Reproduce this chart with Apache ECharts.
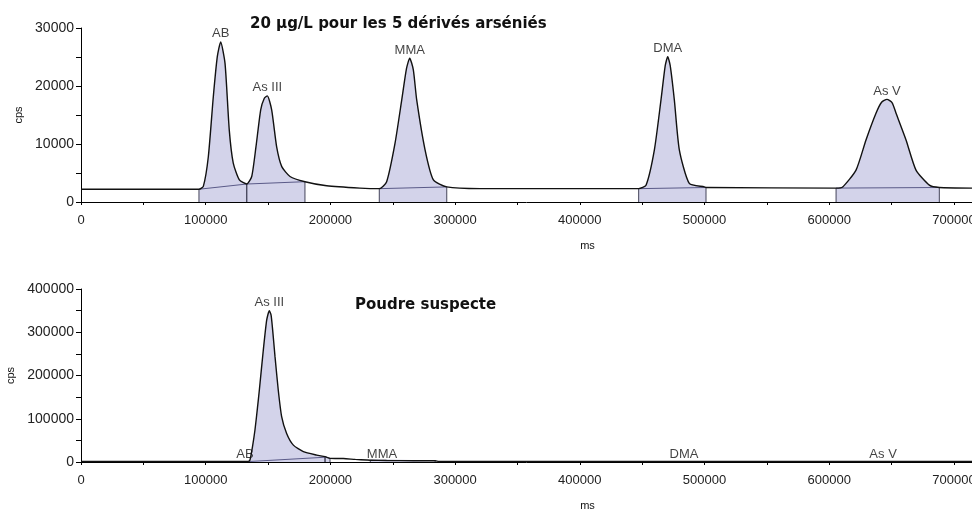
<!DOCTYPE html>
<html>
<head>
<meta charset="utf-8">
<script src="https://cdn.jsdelivr.net/npm/echarts@6/dist/echarts.min.js"></script>
<style>
html, body { margin: 0; padding: 0; background: #fff; }
#chart { width: 972px; height: 511px; }
</style>
</head>
<body>
<div id="chart"></div>
<script>
// standard 20 µg/L : trace (ms, cps)
const topTimes = [0, 94600, 98100, 102100, 106100, 109300, 112000, 115500, 118900, 122100, 127000, 132900,
  136900, 140300, 144100, 147000, 149400, 152900, 156900, 161000, 167600, 179600, 197000, 223700, 239200,
  245100, 251800, 257200, 261000, 263600, 266500, 269200, 275900, 282600, 293300, 320000,
  447200, 453100, 459800, 465100, 468500, 470500, 472500, 475800, 479800, 487800, 499900, 501200,
  605500, 610800, 621500, 629500, 637500, 642000, 646300, 650500, 653600, 661600, 669600, 680300, 688300, 714500]
const topCps = [2200, 2200, 2700, 7800, 18150, 25050, 27600, 23900, 12400, 6700, 3800, 3100,
  4400, 9500, 15900, 17900, 18300, 15900, 9500, 6100, 4400, 3500, 2800, 2400, 2300,
  3500, 10100, 17600, 23000, 24800, 22800, 17600, 9000, 3800, 2600, 2300,
  2300, 2900, 9000, 17600, 23500, 25050, 23500, 17600, 9000, 3200, 2600, 2500,
  2400, 2600, 5500, 10700, 15300, 17200, 17700, 17100, 15300, 10700, 5500, 2900, 2500, 2400]
const topZoneStart = [94600, 132900, 239200, 447200, 605500]
const topZoneEnd = [132900, 179600, 293300, 501200, 688300]
const topBaseFrom = [2200, 3100, 2300, 2300, 2400]
const topBaseTo = [3100, 3500, 2600, 2500, 2500]
const peakNames = ['AB', 'As III', 'MMA', 'DMA', 'As V']
const topPeakTimes = [112000, 149400, 263600, 470500, 646300]
const topPeakCps = [27600, 18300, 24800, 25050, 17700]

// poudre suspecte
const botTimes = [0, 130000, 134200, 135500, 137500, 139500, 141500, 143000, 146200, 148900,
  151000, 152400, 153700, 155600, 158200, 160900, 164900, 170300, 178300, 189000,
  195700, 199700, 210400, 220000, 229100, 232000, 245000, 266500, 284000, 287000, 714500]
const botCps = [1000, 1000, 1500, 4600, 35000, 74000, 125000, 166000, 259000, 328000,
  349800, 340000, 305000, 243000, 166000, 105000, 66000, 39000, 24000, 16000,
  12300, 8500, 8000, 6000, 4600, 4200, 3500, 3000, 3000, 1000, 1000]
const botZoneStart = [134200, 195700, 232000]
const botZoneEnd = [195700, 199700, 284000]
const botBaseFrom = [1000, 12300, 4200]
const botBaseTo = [11000, 8500, 3000]
const botPeakTimes = [131500, 151000, 241400, 483600, 643200]
const botPeakCps = [0, 349800, 0, 0, 0]

const xMax = 714500

function pairs(xs, ys) {
  return xs.map((x, i) => [x, ys[i]])
}

function buildSeries(idx, xs, ys, zs, ze, bf, bt, px, py) {
  const all = pairs(xs, ys)
  const out = []
  const edge = x => all.find(p => p[0] === x)[1]
  zs.forEach((a, i) => {
    const b = ze[i]
    // shaded integration area, filled down to 0
    out.push({
      type: 'line', xAxisIndex: idx, yAxisIndex: idx, symbol: 'none', silent: true, z: 1,
      smooth: 0.2,
      data: all.filter(p => p[0] >= a && p[0] <= b),
      lineStyle: { width: 0 },
      areaStyle: { color: '#d3d3ea', opacity: 1 }
    })
    // limits of the zone
    out.push({
      type: 'line', xAxisIndex: idx, yAxisIndex: idx, symbol: 'none', silent: true, z: 2,
      data: [[a, 0], [a, edge(a)]],
      lineStyle: { color: '#44445a', width: 1 }
    })
    out.push({
      type: 'line', xAxisIndex: idx, yAxisIndex: idx, symbol: 'none', silent: true, z: 2,
      data: [[b, 0], [b, edge(b)]],
      lineStyle: { color: '#44445a', width: 1 }
    })
    // integration baseline
    out.push({
      type: 'line', xAxisIndex: idx, yAxisIndex: idx, symbol: 'none', silent: true, z: 2,
      data: [[a, bf[i]], [b, bt[i]]],
      lineStyle: { color: '#5a5a88', width: 1 }
    })
  })
  out.push({
    type: 'line', xAxisIndex: idx, yAxisIndex: idx, symbol: 'none', silent: true, z: 3,
    smooth: 0.2,
    data: all,
    lineStyle: { color: '#111', width: 1.4 }
  })
  out.push({
    type: 'scatter', xAxisIndex: idx, yAxisIndex: idx, symbolSize: 1, silent: true, z: 4,
    itemStyle: { color: 'rgba(0,0,0,0)' },
    data: px.map((x, i) => ({ value: [x, py[i]], name: peakNames[i] })),
    label: {
      show: true, position: 'top', distance: 1, formatter: '{b}',
      fontFamily: 'Liberation Sans', fontSize: 13, color: '#111'
    }
  })
  return out
}

function xAxisOf(idx) {
  return {
    type: 'value', gridIndex: idx, min: 0, max: xMax, interval: 50000,
    name: 'ms', nameLocation: 'middle', nameGap: 38,
    nameTextStyle: { fontFamily: 'Liberation Sans', fontSize: 11, color: '#111', padding: [0, 0, 0, 122] },
    axisLine: { lineStyle: { color: '#000', width: 1 } },
    axisTick: { length: 3, lineStyle: { color: '#000' } },
    splitLine: { show: false },
    axisLabel: {
      margin: 12, fontFamily: 'Liberation Sans', fontSize: 13, color: '#222',
      formatter: v => (v % 100000 === 0 ? String(v) : '')
    }
  }
}

function yAxisOf(idx, max, step, gap) {
  return {
    type: 'value', gridIndex: idx, min: 0, max: max, interval: step / 2,
    name: 'cps', nameLocation: 'middle', nameGap: gap, nameRotate: 90,
    nameTextStyle: { fontFamily: 'Liberation Sans', fontSize: 11, color: '#111' },
    axisLine: { show: true, lineStyle: { color: '#000', width: 1 } },
    axisTick: { show: true, length: 5, lineStyle: { color: '#000' } },
    splitLine: { show: false },
    axisLabel: {
      margin: 7, fontFamily: 'Liberation Sans', fontSize: 14, color: '#222',
      formatter: v => (v % step === 0 ? String(v) : '')
    }
  }
}

const chart = echarts.init(document.getElementById('chart'))
chart.setOption({
  backgroundColor: '#fff',
  animation: false,
  title: [
    { text: '20 µg/L pour les 5 dérivés arséniés', left: 245, top: 12,
      textStyle: { fontFamily: 'DejaVu Sans', fontWeight: 'bold', fontSize: 15, color: '#111' } },
    { text: 'Poudre suspecte', left: 350, top: 293,
      textStyle: { fontFamily: 'DejaVu Sans', fontWeight: 'bold', fontSize: 15, color: '#111' } }
  ],
  grid: [
    { left: 81, top: 28, width: 891, height: 174, outerBoundsMode: 'none' },
    { left: 81, top: 289, width: 891, height: 173, outerBoundsMode: 'none' }
  ],
  xAxis: [xAxisOf(0), xAxisOf(1)],
  yAxis: [yAxisOf(0, 30000, 10000, 56), yAxisOf(1, 400000, 100000, 62)],
  series: buildSeries(0, topTimes, topCps, topZoneStart, topZoneEnd, topBaseFrom, topBaseTo, topPeakTimes, topPeakCps)
    .concat(buildSeries(1, botTimes, botCps, botZoneStart, botZoneEnd, botBaseFrom, botBaseTo, botPeakTimes, botPeakCps))
})
</script>
</body>
</html>
